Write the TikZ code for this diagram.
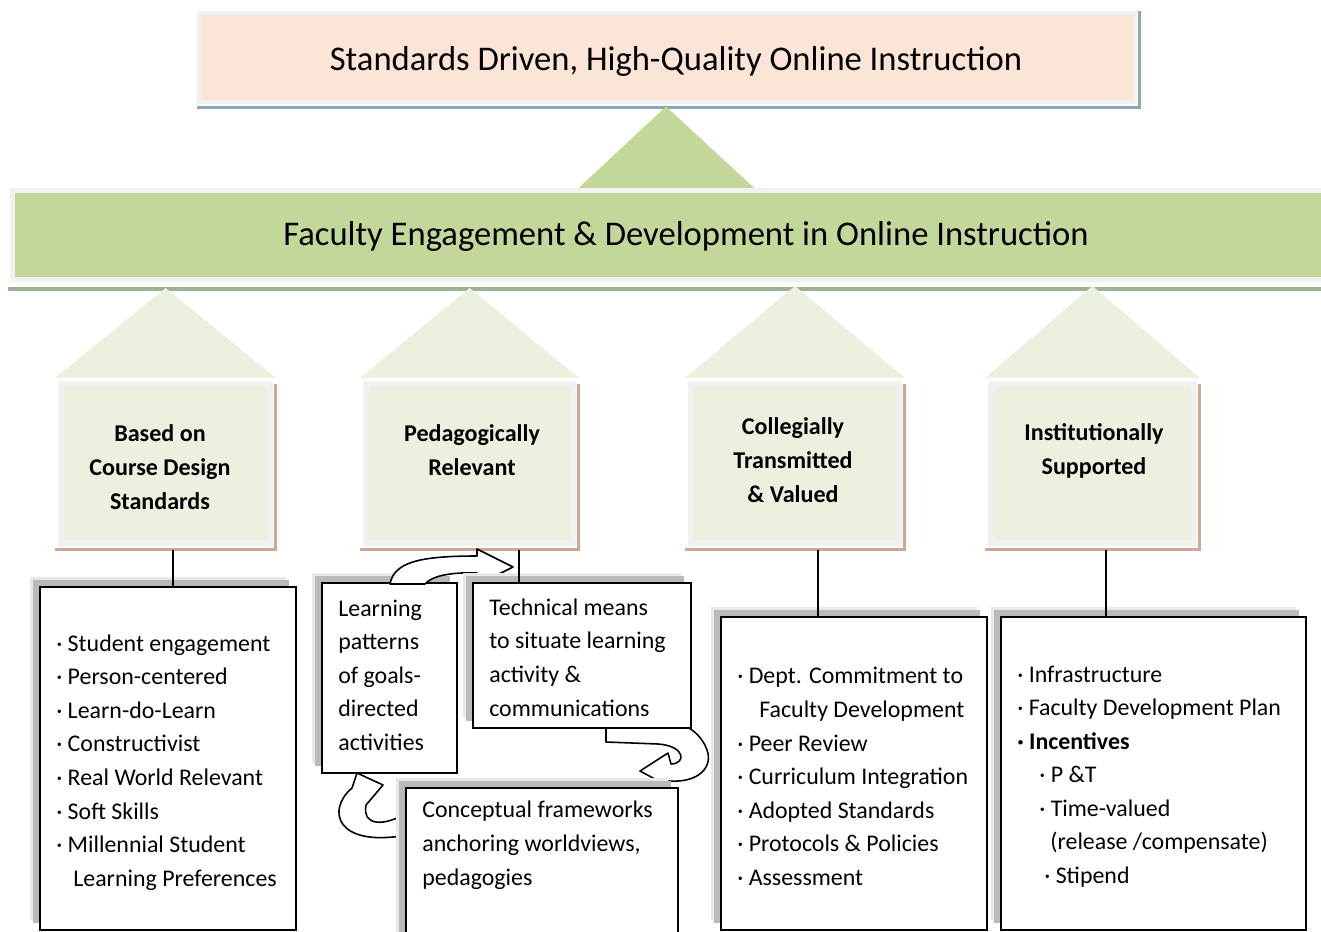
\documentclass[tikz,border=0pt]{standalone}
\usepackage{fontspec}
\setmainfont{Carlito}
\usepackage{tikz}
\usetikzlibrary{positioning,calc,shadows}
\usepackage{xcolor}

\definecolor{peach}{RGB}{252,228,214}
\definecolor{steel}{RGB}{140,166,180}
\definecolor{leaf}{RGB}{196,215,155}
\definecolor{leafline}{RGB}{160,176,150}
\definecolor{pale}{RGB}{235,241,222}
\definecolor{tan}{RGB}{205,168,148}
\definecolor{frame}{RGB}{241,241,241}

\newcommand{\listfont}{\fontsize{13.6}{19.1}\selectfont}
\newcommand{\pillarfont}{\fontsize{13.7}{19.3}\selectfont\bfseries}
\newcommand{\bannerfont}{\fontsize{19.7}{24}\selectfont}

\begin{document}
\begin{tikzpicture}[
    x=0.02cm, y=-0.02cm,
    banner/.style={rectangle, draw=frame, line width=0.08cm, inner sep=0pt},
    bannertext/.style={font=\bannerfont, inner sep=0pt},
    pillar/.style={rectangle, fill=pale, draw=frame, line width=0.12cm, minimum height=3.18cm, inner sep=0pt},
    roof/.style={fill=pale},
    tanline/.style={draw=tan, line width=0.06cm},
    head/.style={align=center, font=\pillarfont, inner sep=0pt},
    listbox/.style={rectangle, draw=black, line width=1.2pt, fill=white, inner sep=0pt,
        drop shadow={shadow xshift=-0.2cm, shadow yshift=0.2cm, fill=black!9, opacity=1},
        drop shadow={shadow xshift=-0.14cm, shadow yshift=0.14cm, fill=black!27, opacity=1}},
    listtext/.style={align=left, font=\listfont, inner sep=0pt},
    link/.style={draw=black, line width=1pt},
    turn/.style={draw=black, fill=white, line width=0.9pt, line join=round}
]
\clip (0,0) rectangle (1321,932);
\fill[white] (0,0) rectangle (1321,932);

% Goal on top
\node[banner, fill=peach, minimum width=18.72cm, minimum height=1.8cm] (goal) at (667,57.5) {};
\node[bannertext] (goaltext) at (676,61) {Standards Driven, High-Quality Online Instruction};
\draw[draw=steel, line width=0.06cm] ($(goal.south west)+(0,3)$) -- ($(goal.south east)+(3,3)$) -- ($(goal.north east)+(3,0)$);
\fill[leaf] ($(goal.south)+(-1,2)$) -- ($(goal.south)+(90,86)$) -- ($(goal.south)+(-91,86)$) -- cycle;

% Faculty band
\node[banner, fill=leaf, line width=0.1cm, minimum width=26.56cm, minimum height=1.8cm] (band) at (676,235) {};
\node[bannertext] (bandtext) at (686,236) {Faculty Engagement \& Development in Online Instruction};
\draw[draw=leafline, line width=0.08cm] ($(band.south west)+(-2,7)$) -- ($(band.south east)+(0,7)$);

% Four pillars
\node[pillar, minimum width=4.18cm] (h1) at (165.5,463.5) {};
\node[pillar, minimum width=4.14cm] (h2) at (469.5,463.5) {};
\node[pillar, minimum width=4.16cm] (h3) at (795,463.5) {};
\node[pillar, minimum width=4.06cm] (h4) at (1092.5,463.5) {};

\fill[roof] ($(h1.north west)+(-3,-3)$) -- ($(h1.north)+(0,-93)$) -- ($(h1.north east)+(3,-3)$) -- cycle;
\fill[roof] ($(h2.north west)+(-3,-3)$) -- ($(h2.north)+(0,-93)$) -- ($(h2.north east)+(3,-3)$) -- cycle;
\fill[roof] ($(h3.north west)+(-3,-3)$) -- ($(h3.north)+(0,-95)$) -- ($(h3.north east)+(3,-3)$) -- cycle;
\fill[roof] ($(h4.north west)+(-3,-3)$) -- ($(h4.north)+(0,-95)$) -- ($(h4.north east)+(3,-3)$) -- cycle;

\draw[tanline] ($(h1.north east)+(3,3)$) -- ($(h1.south east)+(3,4)$) -- ($(h1.south west)+(-3,4)$);
\draw[tanline] ($(h2.north east)+(3,3)$) -- ($(h2.south east)+(3,4)$) -- ($(h2.south west)+(-3,4)$);
\draw[tanline] ($(h3.north east)+(3,3)$) -- ($(h3.south east)+(3,4)$) -- ($(h3.south west)+(-3,4)$);
\draw[tanline] ($(h4.north east)+(3,3)$) -- ($(h4.south east)+(3,4)$) -- ($(h4.south west)+(-3,4)$);

\node[head] (h1text) at (160,467) {Based on\\Course Design\\Standards};
\node[head] (h2text) at (472,450) {Pedagogically\\Relevant};
\node[head] (h3text) at (793,460) {Collegially\\Transmitted\\\& Valued};
\node[head] (h4text) at (1094,451) {Institutionally\\Supported};

% Lower boxes
\node[listbox, minimum width=5.12cm, minimum height=6.86cm] (course) at (168,758.5) {};
\node[listtext, anchor=west] (coursetext) at ($(course.west)+(17,4)$)
    {· Student engagement\\
     · Person-centered\\
     · Learn-do-Learn\\
     · Constructivist\\
     · Real World Relevant\\
     · Soft Skills\\
     · Millennial Student\\
     \hspace*{0.34cm}Learning Preferences};

\node[listbox, minimum width=2.70cm, minimum height=3.80cm] (learn) at (389.5,678) {};
\node[listtext, anchor=west] (learntext) at ($(learn.west)+(17,-3)$)
    {Learning\\patterns\\of goals-\\directed\\activities};

% loop arrows between the three pedagogy boxes
\draw[turn] (390,584) .. controls (394,562) and (420,556) .. (477,556) -- (477,549) -- (513,567)
    -- (477,585) -- (477,573) .. controls (450,572) and (432,576) .. (425,584) -- cycle;

\node[listbox, minimum width=4.36cm, minimum height=2.90cm] (tech) at (582,655.5) {};
\node[listtext, anchor=west] (techtext) at ($(tech.west)+(17,2)$)
    {Technical means\\to situate learning\\activity \&\\communications};

\draw[turn] (606,728) -- (606,742) -- (658,744) .. controls (686,746) and (686,764) .. (671,764)
    -- (668,753) -- (640,771) -- (666,785) -- (669,781) .. controls (700,783) and (713,766) .. (707,750)
    .. controls (702,736) and (692,730) .. (689,728) -- cycle;
\draw[turn] (407,813) .. controls (385,826) and (362,827) .. (366,805) -- (383,785) -- (357,773)
    -- (352,788) .. controls (326,810) and (336,848) .. (407,835) -- cycle;

\node[listbox, minimum width=5.44cm, minimum height=4.24cm] (concept) at (542,894) {};
\node[listtext, anchor=north west] (concepttext) at ($(concept.north west)+(17,14)$)
    {Conceptual frameworks\\anchoring worldviews,\\pedagogies};

\node[listbox, minimum width=5.32cm, minimum height=6.26cm] (coll) at (854,773.5) {};
\node[listtext, anchor=west] (colltext) at ($(coll.west)+(17,3)$)
    {· Dept. Commitment to\\
     \hspace*{0.44cm}Faculty Development\\
     · Peer Review\\
     · Curriculum Integration\\
     · Adopted Standards\\
     · Protocols \& Policies\\
     · Assessment};

\node[listbox, minimum width=6.10cm, minimum height=6.26cm] (inst) at (1153.5,773.5) {};
\node[listtext, anchor=west] (insttext) at ($(inst.west)+(17,3)$)
    {· Infrastructure\\
     · Faculty Development Plan\\
     \textbf{· Incentives}\\
     \hspace*{0.44cm}· P \&T\\
     \hspace*{0.44cm}· Time-valued\\
     \hspace*{0.66cm}(release /compensate)\\
     \hspace*{0.54cm}· Stipend};

% Pillars to their boxes
\coordinate (c1) at ($(h1.south)+(7.5,4)$);
\coordinate (c2) at ($(h2.south)+(49.5,4)$);
\coordinate (c3) at ($(h3.south)+(23,4)$);
\coordinate (c4) at ($(h4.south)+(13.5,4)$);
\draw[link] (c1) -- (c1 |- course.north);
\draw[link] (c2) -- (c2 |- tech.north);
\draw[link] (c3) -- (c3 |- coll.north);
\draw[link] (c4) -- (c4 |- inst.north);

\end{tikzpicture}
\end{document}
